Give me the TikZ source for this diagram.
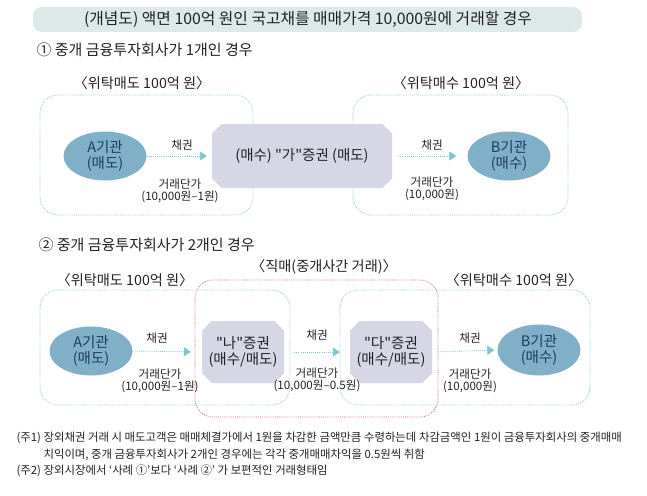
\documentclass[tikz,border=0pt]{standalone}
\usepackage{fontspec}
\setmainfont{Noto Sans CJK KR}
\usepackage{tikz}
\usetikzlibrary{arrows.meta,shapes.geometric,shapes.misc}
\definecolor{Ink}{HTML}{222222}
\definecolor{Band}{HTML}{DCE9E8}
\definecolor{Teal}{HTML}{7CC6D0}
\definecolor{Rose}{HTML}{D5536B}
\definecolor{Steel}{HTML}{80AFC8}
\definecolor{Navy}{HTML}{1D3D63}
\definecolor{Lilac}{HTML}{D6D6E4}

\begin{document}
\begin{tikzpicture}[x=1pt,y=-1pt,
    zone/.style={draw=Teal,line width=0.8pt,dash pattern=on 0.8pt off 1.3pt,rounded corners=18pt},
    deal/.style={draw=Rose,line width=0.8pt,dash pattern=on 0.8pt off 1.3pt,rounded corners=18pt},
    firm/.style={ellipse,fill=Steel,text=Navy,align=center,inner sep=0pt,minimum width=83pt,minimum height=49pt,font=\fontsize{14.5}{15.5}\selectfont},
    broker/.style={chamfered rectangle,chamfered rectangle xsep=6pt,fill=Lilac,text=Ink,align=center,inner sep=0pt,font=\fontsize{14.5}{16}\selectfont},
    flow/.style={draw=Teal,line width=0.9pt,dash pattern=on 0.8pt off 1.3pt,-{Triangle[length=7pt,width=9pt]}},
    tag/.style={text=Ink,align=center,font=\fontsize{11.6}{12.5}\selectfont},
    zonelabel/.style={text=Ink,font=\fontsize{14.2}{16}\selectfont},
    headline/.style={anchor=west,text=Ink,font=\fontsize{15}{17}\selectfont},
    note/.style={anchor=west,text=Ink,font=\fontsize{11.4}{13}\selectfont}]
    \useasboundingbox (0,0) rectangle (647,495);
    \fill[white] (0,0) rectangle (647,495);

    % title band
    \fill[Band,rounded corners=9pt] (33,7) rectangle (582,32);
    \node[text=Ink,font=\fontsize{15.8}{18}\selectfont] (title) at (308,19.5) {(개념도) 액면 100억 원인 국고채를 매매가격 10,000원에 거래할 경우};

    % case 1
    \node[headline] (head1) at (33,50) {① 중개 금융투자회사가 1개인 경우};
    \draw[zone] (40,95) rectangle (253,215);
    \draw[zone] (353,95) rectangle (568,215);
    \node[zonelabel] (sell1) at (142,83) {〈위탁매도 100억 원〉};
    \node[zonelabel] (buy1) at (461,83) {〈위탁매수 100억 원〉};

    \node[firm] (A1) at (105,156) {A기관\\(매도)};
    \node[broker,minimum width=180pt,minimum height=64pt] (ga) at (302,156) {(매수) \textquotedbl 가\textquotedbl 증권 (매도)};
    \node[firm] (B1) at (509,156) {B기관\\(매수)};

    \draw[flow,shorten >=5pt] (A1.east) -- (ga.west);
    \draw[flow,shorten <=6pt,shorten >=11pt] (ga.east) -- (B1.west);
    \node[tag] (bond1a) at (182,145) {채권};
    \node[tag] (price1a) at (180,191) {거래단가\\(10,000원–1원)};
    \node[tag] (bond1b) at (432,145) {채권};
    \node[tag] (price1b) at (432,189) {거래단가\\(10,000원)};

    % case 2
    \node[headline] (head2) at (35,245) {② 중개 금융투자회사가 2개인 경우};
    \draw[zone] (40,290) rectangle (290,405);
    \draw[zone] (340,290) rectangle (590,405);
    \draw[deal] (195,280) rectangle (438,417);
    \node[zonelabel] (sell2) at (125,280) {〈위탁매도 100억 원〉};
    \node[zonelabel] (inter) at (324,267) {〈직매(중개사간 거래)〉};
    \node[zonelabel] (buy2) at (514,280) {〈위탁매수 100억 원〉};

    \node[firm] (A2) at (91,351) {A기관\\(매도)};
    \node[broker,minimum width=82pt,minimum height=62pt] (na) at (243,352) {\textquotedbl 나\textquotedbl 증권\\(매수/매도)};
    \node[broker,minimum width=82pt,minimum height=62pt] (da) at (391,352) {\textquotedbl 다\textquotedbl 증권\\(매수/매도)};
    \node[firm,minimum height=51pt] (B2) at (539,350) {B기관\\(매수)};

    \draw[flow,shorten >=11pt] (A2.east) -- (na.west);
    \draw[flow,shorten <=10pt,shorten >=10pt] (na.east) -- (da.west);
    \draw[flow,shorten <=6pt,shorten >=3pt] (da.east) -- (B2.west);
    \node[tag] (bond2a) at (157,338) {채권};
    \node[tag] (price2a) at (160,381) {거래단가\\(10,000원–1원)};
    \node[tag] (bond2b) at (317,335) {채권};
    \node[tag] (price2b) at (317,380) {거래단가\\(10,000원–0.5원)};
    \node[tag] (bond2c) at (470,338) {채권};
    \node[tag] (price2c) at (470,381) {거래단가\\(10,000원)};

    % notes
    \node[note] (note1) at (13,438) {(주1) 장외채권 거래 시 매도고객은 매매체결가에서 1원을 차감한 금액만큼 수령하는데 차감금액인 1원이 금융투자회사의 중개매매};
    \node[note] (note1b) at (40,455) {치익이며, 중개 금융투자회사가 2개인 경우에는 각각 중개매매차익을 0.5원씩 취함};
    \node[note] (note2) at (13,471) {(주2) 장외시장에서 ‘사례 ①’보다 ‘사례 ②’ 가 보편적인 거래형태임};
\end{tikzpicture}
\end{document}
